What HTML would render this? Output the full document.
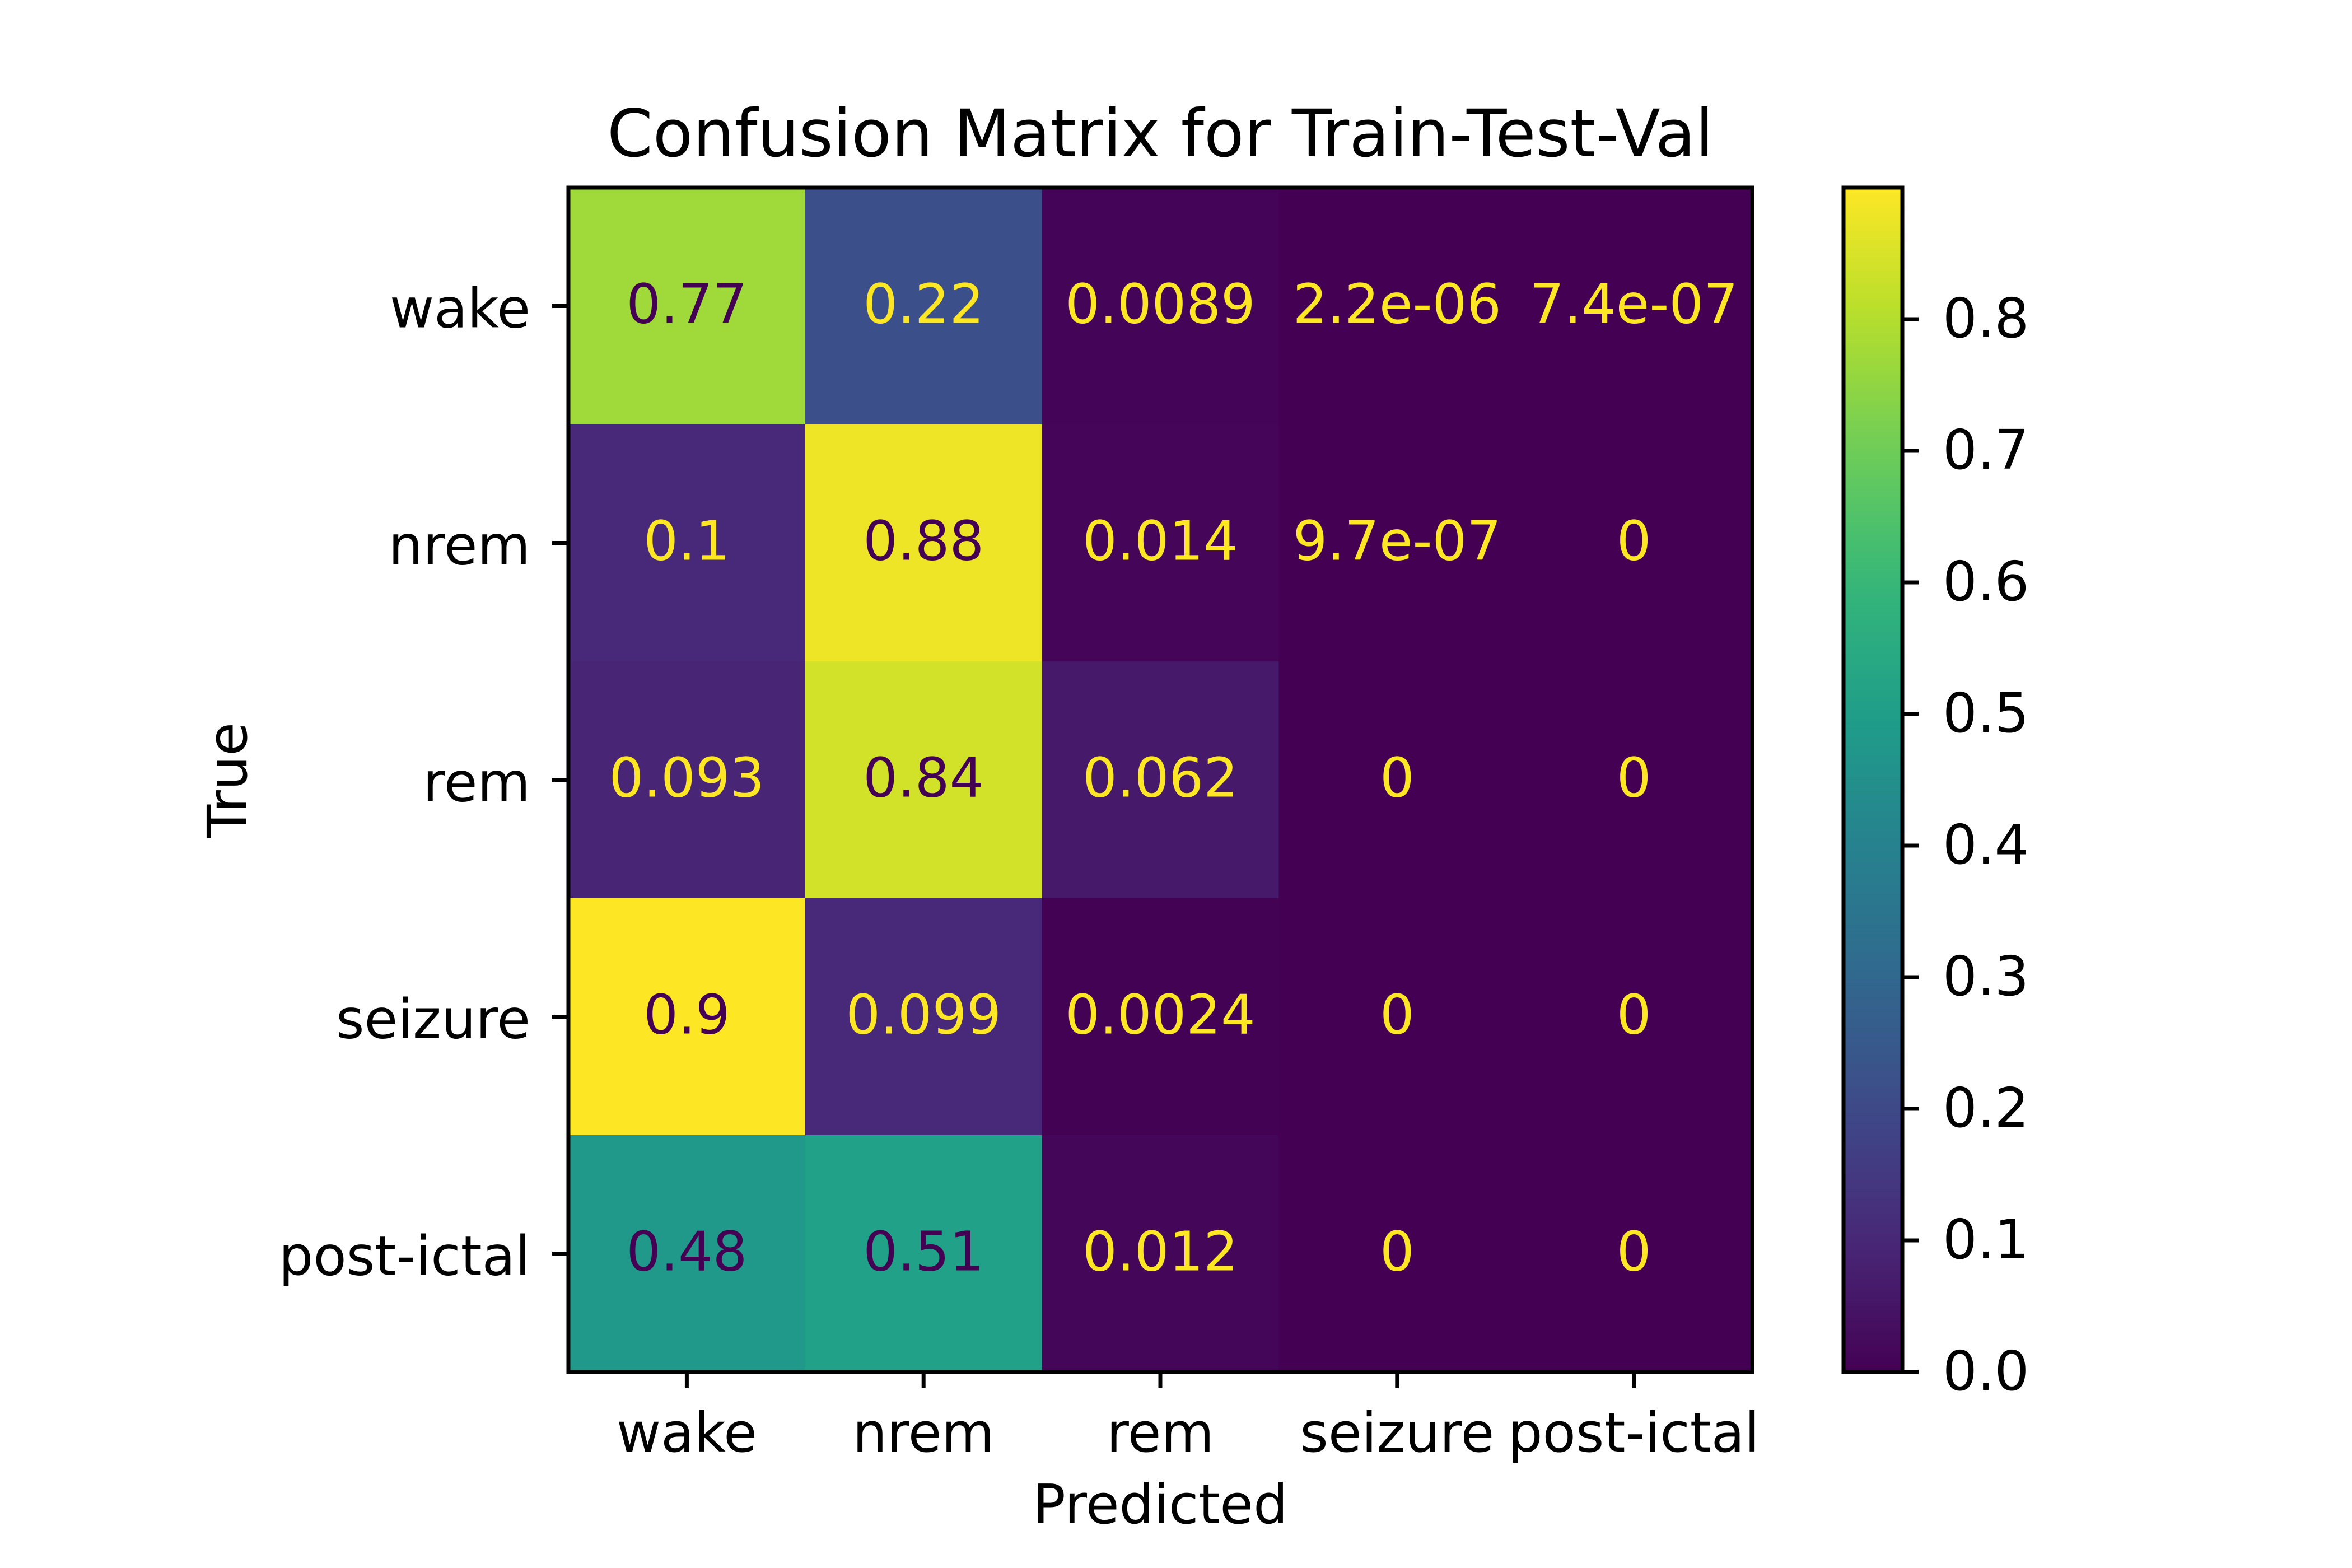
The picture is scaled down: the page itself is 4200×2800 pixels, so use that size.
<!DOCTYPE html>
<html><head><meta charset="utf-8"><style>
html,body{margin:0;padding:0;background:#fff;}
svg{display:block;font-family:"DejaVu Sans","Liberation Sans",sans-serif;}
</style></head><body>
<svg id="chart" width="4200" height="2800" viewBox="0 0 4200 2800" xmlns="http://www.w3.org/2000/svg">
<rect width="4200" height="2800" fill="#fff"/>
<text x="2072" y="279" font-size="117" text-anchor="middle">Confusion Matrix for Train-Test-Val</text>
<g id="cells"></g>
<g id="axes"></g>
<text x="2072" y="2720" font-size="97" text-anchor="middle">Predicted</text>
<text transform="translate(440,1393) rotate(-90)" font-size="97" text-anchor="middle">True</text>
<defs><linearGradient id="cbgrad" x1="0" y1="1" x2="0" y2="0"></linearGradient></defs>
</svg>
<script>
const classes = ["wake","nrem","rem","seizure","post-ictal"];
const values = [
  [0.77,0.22,0.0089,2.2e-6,7.4e-7],
  [0.1,0.88,0.014,9.7e-7,0],
  [0.093,0.84,0.062,0,0],
  [0.9,0.099,0.0024,0,0],
  [0.48,0.51,0.012,0,0]
];
const labels = [
  ["0.77","0.22","0.0089","2.2e-06","7.4e-07"],
  ["0.1","0.88","0.014","9.7e-07","0"],
  ["0.093","0.84","0.062","0","0"],
  ["0.9","0.099","0.0024","0","0"],
  ["0.48","0.51","0.012","0","0"]
];
const cbTicks = [0,0.1,0.2,0.3,0.4,0.5,0.6,0.7,0.8];
const cbTickLabels = ["0.0","0.1","0.2","0.3","0.4","0.5","0.6","0.7","0.8"];

const VIR=[[68,1,84],[72,40,120],[62,74,137],[49,104,142],[38,130,142],[31,158,137],[53,183,121],[109,205,89],[180,222,44],[253,231,37]];
function viridis(t){t=Math.max(0,Math.min(1,t));const p=t*(VIR.length-1),i=Math.min(Math.floor(p),VIR.length-2),f=p-i;
 const c=VIR[i].map((v,k)=>Math.round(v+(VIR[i+1][k]-v)*f));return `rgb(${c[0]},${c[1]},${c[2]})`;}

const NS="http://www.w3.org/2000/svg";
const svg=document.getElementById('chart');
const L=1015,R=3129,T=335,B=2450;
const n=classes.length, cw=(R-L)/n, ch=(B-T)/n;
let vmin=Infinity,vmax=-Infinity;values.forEach(r=>r.forEach(v=>{vmin=Math.min(vmin,v);vmax=Math.max(vmax,v);}));
const xPos=j=>L+cw*(j+0.5), yPos=i=>T+ch*(i+0.5);
const norm=v=>(v-vmin)/(vmax-vmin);
function mk(tag,attrs,parent){const e=document.createElementNS(NS,tag);for(const k in attrs)e.setAttribute(k,attrs[k]);(parent||svg).appendChild(e);return e;}
const cells=document.getElementById('cells'), axes=document.getElementById('axes');
const thresh=(vmax+vmin)/2;
values.forEach((row,i)=>row.forEach((v,j)=>{
  const r=mk('rect',{x:L+cw*j,y:T+ch*i,width:cw+0.5,height:ch+0.5,fill:viridis(norm(v))},cells);
  
  
  const t=mk('text',{x:xPos(j),y:yPos(i)+30,'font-size':97,'text-anchor':'middle',fill:v>=thresh?'#440154':'#fde725'},cells);
  t.textContent=labels[i][j];
  
  
}));
const frame=mk('rect',{x:L,y:T,width:R-L,height:B-T,fill:'none',stroke:'#000','stroke-width':7},axes);


classes.forEach((c,k)=>{
  mk('line',{x1:L-29,x2:L,y1:yPos(k),y2:yPos(k),stroke:'#000','stroke-width':7},axes);
  const yl=mk('text',{x:L-68,y:yPos(k)+38,'font-size':97,'text-anchor':'end'},axes);yl.textContent=c;
  
  
  mk('line',{x1:xPos(k),x2:xPos(k),y1:B,y2:B+29,stroke:'#000','stroke-width':7},axes);
  const xl=mk('text',{x:xPos(k),y:2592,'font-size':97,'text-anchor':'middle'},axes);xl.textContent=c;
  
  
});
const CL=3292,CR=3397;
const grad=document.getElementById('cbgrad');
for(let s=0;s<=20;s++){mk('stop',{offset:s/20,'stop-color':viridis(s/20)},grad);}
const cb=mk('rect',{x:CL,y:T,width:CR-CL,height:B-T,fill:'url(#cbgrad)',stroke:'#000','stroke-width':7});


const cbY=v=>B-(B-T)*norm(v);
cbTicks.forEach((v,k)=>{
  mk('line',{x1:CR,x2:CR+29,y1:cbY(v),y2:cbY(v),stroke:'#000','stroke-width':7});
  const t=mk('text',{x:CR+72,y:cbY(v)+32,'font-size':97});t.textContent=cbTickLabels[k];
  
  
});
</script>
</body></html>
